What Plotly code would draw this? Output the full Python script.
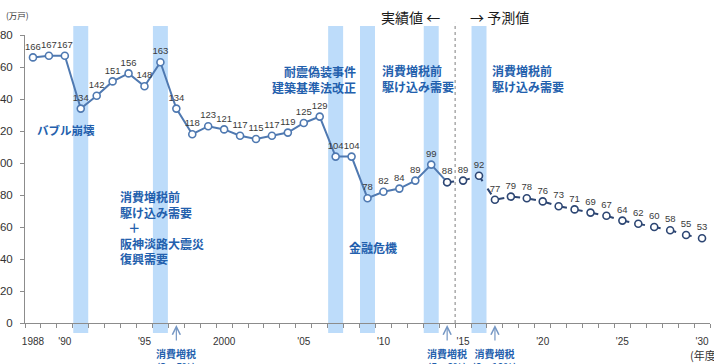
import plotly.graph_objects as go

# ---------------- data ----------------
actual_years = list(range(1988, 2015))
actual_values = [166, 167, 167, 134, 142, 151, 156, 148, 163, 134,
                 118, 123, 121, 117, 115, 117, 119, 125, 129, 104,
                 104, 78, 82, 84, 89, 99, 88]
forecast_years = list(range(2015, 2031))
forecast_values = [89, 92, 77, 79, 78, 76, 73, 71, 69, 67, 64, 62, 60, 58, 55, 53]

band_years = [1991, 1996, 2007, 2009, 2013, 2016]
tax_years = [1997, 2014, 2017]
tax_labels = ["消費増税<br>(3→5%)", "消費増税<br>(5→8%)", "消費増税<br>(8→10%)"]
boundary_year = 2014.5

xtick_years = [1988, 1990, 1995, 2000, 2005, 2010, 2015, 2020, 2025, 2030]
xtick_labels = ["1988", "'90", "'95", "2000", "'05", "'10", "'15", "'20", "'25", "'30"]
ytick_vals = list(range(0, 181, 20))

# ---------------- styles ----------------
STEEL = "#4f79b1"
NAVY = "#2d4673"
BAND = "#bddcfa"
TXTBLUE = "#2360ad"
AXIS = "#8c8c8c"
JP = "Noto Sans CJK JP"
NUM = "Liberation Sans, Arial, sans-serif"

fig = go.Figure()

# actual series
fig.add_trace(go.Scatter(
    x=actual_years, y=actual_values,
    mode="lines+markers+text",
    line=dict(color=STEEL, width=2),
    marker=dict(symbol="circle", size=7, color="white",
                line=dict(color=STEEL, width=1.6)),
    text=[str(v) for v in actual_values],
    textposition="top center",
    textfont=dict(family=NUM, size=9.5, color="#3a3a3a"),
    cliponaxis=False, hoverinfo="skip",
))

# forecast series (continues from last actual point)
fc_x = [actual_years[-1]] + forecast_years
fc_y = [actual_values[-1]] + forecast_values
fig.add_trace(go.Scatter(
    x=fc_x, y=fc_y,
    mode="lines+markers+text",
    line=dict(color=NAVY, width=2, dash="7px,9px"),
    marker=dict(symbol="circle", size=7, color="white",
                line=dict(color=NAVY, width=1.6)),
    text=[""] + [str(v) for v in forecast_values],
    textposition="top center",
    textfont=dict(family=NUM, size=9.5, color="#3a3a3a"),
    cliponaxis=False, hoverinfo="skip",
))

shapes = []
for yr in band_years:
    shapes.append(dict(type="rect", xref="x", yref="paper",
                       x0=yr - 0.47, x1=yr + 0.47, y0=-0.035, y1=1.031,
                       fillcolor=BAND, line=dict(width=0), layer="below"))
shapes.append(dict(type="line", xref="x", yref="paper",
                   x0=boundary_year, x1=boundary_year, y0=0, y1=1.042,
                   line=dict(color="#7f7f7f", width=1, dash="3px,3px")))

bluefont = dict(family=JP, size=12, color=TXTBLUE, weight=700)
annotations = [
    dict(text="バブル崩壊", x=1988.1, y=120.5, xref="x", yref="y",
         xanchor="left", yanchor="middle", showarrow=False,
         font=dict(family=JP, size=11.5, color=TXTBLUE, weight=700)),
    dict(text="消費増税前<br>駆け込み需要<br>\u00a0\u00a0\u00a0＋<br>阪神淡路大震災<br>復興需要",
         x=1993.34, y=85.6, xref="x", yref="y", xanchor="left", yanchor="top",
         align="left", showarrow=False, font=bluefont),
    dict(text="耐震偽装事件<br>建築基準法改正", x=2008.4, y=163.5, xref="x", yref="y",
         xanchor="right", yanchor="top", align="right", showarrow=False, font=bluefont),
    dict(text="消費増税前<br>駆け込み需要", x=2009.78, y=164.5, xref="x", yref="y",
         xanchor="left", yanchor="top", align="left", showarrow=False, font=bluefont),
    dict(text="消費増税前<br>駆け込み需要", x=2016.69, y=164.5, xref="x", yref="y",
         xanchor="left", yanchor="top", align="left", showarrow=False, font=bluefont),
    dict(text="金融危機", x=2007.71, y=47.5, xref="x", yref="y",
         xanchor="left", yanchor="middle", showarrow=False, font=bluefont),
    dict(text="実績値 ←", x=2013.67, y=1.0625, xref="x", yref="paper",
         xanchor="right", yanchor="middle", showarrow=False,
         font=dict(family=JP, size=14, color="#1a1a1a")),
    dict(text="→ 予測値", x=2015.31, y=1.0625, xref="x", yref="paper",
         xanchor="left", yanchor="middle", showarrow=False,
         font=dict(family=JP, size=14, color="#1a1a1a")),
    dict(text="(万戸)", x=-0.031, y=1.069, xref="paper", yref="paper",
         xanchor="left", yanchor="middle", showarrow=False,
         font=dict(family=JP, size=8.5, color="#333333")),
    dict(text="(年度)", x=0.968, y=-0.111, xref="paper", yref="paper",
         xanchor="left", yanchor="middle", showarrow=False,
         font=dict(family=JP, size=11, color="#333333")),
]
for yr, lab in zip(tax_years, tax_labels):
    annotations.append(dict(text="", x=yr, y=-0.007, xref="x", yref="paper",
                            showarrow=True, ax=0, ay=17, arrowhead=5,
                            arrowsize=1.3, arrowwidth=1.2, arrowcolor="#7597c4"))
    annotations.append(dict(text=lab, x=yr, y=-0.0729, xref="x", yref="paper",
                            xanchor="center", yanchor="top", align="center",
                            showarrow=False,
                            font=dict(family=JP, size=10, color=TXTBLUE, weight=700)))

fig.update_layout(
    template="none",
    width=714, height=364,
    margin=dict(l=25, r=4, t=35, b=41, pad=0),
    paper_bgcolor="white", plot_bgcolor="white",
    showlegend=False,
    shapes=shapes, annotations=annotations,
    xaxis=dict(range=[1987.5, 2030.5], tickmode="array",
               tickvals=xtick_years, ticktext=xtick_labels,
               ticks="", showline=True, linecolor=AXIS, linewidth=1,
               showgrid=False, zeroline=False, automargin=False,
               tickfont=dict(family=NUM, size=10, color="#333333"),
               ticklabelstandoff=9,
               minor=dict(tickmode="linear", tick0=0.5, dtick=1,
                          ticks="outside", ticklen=4, tickcolor=AXIS,
                          tickwidth=1, showgrid=False)),
    yaxis=dict(range=[0, 180], tickmode="array", tickvals=ytick_vals,
               ticktext=[str(v) for v in ytick_vals],
               ticks="outside", ticklen=4, tickcolor=AXIS, tickwidth=1,
               showline=True, linecolor=AXIS, linewidth=1,
               showgrid=False, zeroline=False, automargin=False,
               ticklabeloverflow="allow", ticklabelstandoff=5,
               tickfont=dict(family=NUM, size=11.5, color="#333333")),
)

fig.write_html("out.html")
